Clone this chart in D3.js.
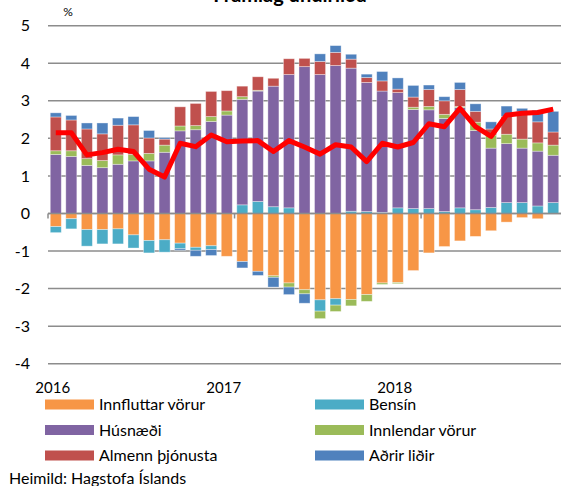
<!DOCTYPE html>
<html>
<head>
<meta charset="utf-8">
<script src="https://cdn.jsdelivr.net/npm/d3@7"></script>
<style>
  body { margin: 0; background: #fff; }
  svg { display: block; font-family: Lato, "Open Sans", sans-serif; }
</style>
</head>
<body>
<div id="chart"></div>
<script>
// months Jan 2016 - Sep 2018
const months = ['2016-01','2016-02','2016-03','2016-04','2016-05','2016-06','2016-07','2016-08','2016-09','2016-10','2016-11','2016-12',
  '2017-01','2017-02','2017-03','2017-04','2017-05','2017-06','2017-07','2017-08','2017-09','2017-10','2017-11','2017-12',
  '2018-01','2018-02','2018-03','2018-04','2018-05','2018-06','2018-07','2018-08','2018-09'];

const innfluttar = [-0.35,-0.14,-0.43,-0.43,-0.41,-0.57,-0.72,-0.70,-0.79,-0.90,-0.86,-1.14,
  -1.28,-1.54,-1.66,-1.85,-2.03,-2.30,-2.27,-2.29,-2.16,-1.85,-1.84,-1.52,
  -1.05,-0.88,-0.73,-0.61,-0.46,-0.23,-0.11,-0.14,0];
const bensin = [-0.16,-0.27,-0.44,-0.38,-0.40,-0.35,-0.33,-0.33,-0.15,-0.08,-0.10,0,
  0.23,0.32,0.18,0.15,0,-0.30,-0.17,0.06,0.05,0.03,0.15,0.13,
  0.13,0.05,0.15,0.10,0.16,0.29,0.29,0.20,0.29];
const husnaedi = [1.57,1.52,1.28,1.22,1.31,1.40,1.40,1.63,2.20,2.23,2.45,2.62,
  2.81,2.94,3.21,3.55,3.91,3.70,3.94,3.81,3.44,3.23,3.07,2.64,
  2.63,2.48,2.67,2.11,1.58,1.57,1.45,1.46,1.26];
const innlendar = [0.10,0.15,0.18,0.19,0.25,0.17,0.20,0.19,0.13,0.11,0.13,0.11,
  0.07,0.02,-0.04,-0.11,-0.11,-0.20,-0.17,-0.17,-0.18,-0.04,-0.03,0.06,
  0.09,0.11,0.03,0.22,0.35,0.25,0.24,0.22,0.27];
const almenn = [0.90,0.82,0.79,0.71,0.79,0.79,0.41,0.16,0.51,0.59,0.67,0.54,
  0.28,0.36,0.21,0.42,0.22,0.35,0.35,0.24,0.13,0.27,0.09,0.27,
  0.45,0.36,0.45,0.29,0.16,0.47,0.73,0.56,0.35];
const adrir = [0.11,0.12,0.16,0.29,0.19,0.22,0.20,0.04,-0.04,-0.16,-0.16,0,
  -0.17,-0.11,-0.26,-0.20,-0.25,0.20,0.18,0.13,0.09,0.25,0.30,0.31,
  0.12,0.11,0.19,0.20,0.19,0.28,0.09,0.31,0.55];
const verdbolga = [2.15,2.15,1.56,1.62,1.71,1.65,1.18,0.97,1.87,1.78,2.09,1.91,
  1.93,1.94,1.65,1.94,1.77,1.58,1.83,1.77,1.38,1.87,1.77,1.89,
  2.39,2.31,2.80,2.31,2.05,2.62,2.67,2.69,2.78];

const seriesNames = ['Innfluttar vörur', 'Bensín', 'Húsnæði', 'Innlendar vörur', 'Almenn þjónusta', 'Aðrir liðir'];
const seriesValues = [innfluttar, bensin, husnaedi, innlendar, almenn, adrir];
const colors = ['#F79646', '#4BACC6', '#8064A2', '#9BBB59', '#C0504D', '#4F81BD'];

const yTicks = [-4, -3, -2, -1, 0, 1, 2, 3, 4, 5];
const yearLabels = ['2016', '2017', '2018'];
const yearLabelMonth = ['2016-01', '2016-12', '2017-11'];
const yearTickMonth = ['2017-01', '2018-01'];

const width = 563;
const height = 486;

const svg = d3.select('#chart').append('svg')
  .attr('width', width)
  .attr('height', height);

const xScale = d3.scaleBand()
  .domain(months)
  .range([48, 561])
  .paddingInner(0.29)
  .paddingOuter(0.145);

const yScale = d3.scaleLinear().domain([-4, 5]).range([363.7, 25.7]);

// table for the stack
const table = months.map((m, i) => {
  const row = { month: m };
  seriesNames.forEach((s, j) => { row[s] = seriesValues[j][i]; });
  return row;
});

const stacked = d3.stack()
  .keys(seriesNames)
  .offset(d3.stackOffsetDiverging)(table);

// gridlines
svg.append('g')
  .selectAll('line')
  .data(yTicks)
  .join('line')
  .attr('x1', 48)
  .attr('x2', 561)
  .attr('y1', d => yScale(d))
  .attr('y2', d => yScale(d))
  .attr('stroke', '#8c8c8c')
  .attr('stroke-width', 1.5);

// y labels
svg.append('g')
  .selectAll('text')
  .data(yTicks)
  .join('text')
  .attr('x', 30)
  .attr('y', d => yScale(d))
  .attr('dy', '0.35em')
  .attr('text-anchor', 'end')
  .attr('font-size', 16)
  .attr('fill', '#000')
  .text(d => d);

svg.append('text')
  .attr('x', 68)
  .attr('y', 16)
  .attr('text-anchor', 'middle')
  .attr('font-size', 12)
  .text('%');

// bars
svg.append('g')
  .selectAll('g')
  .data(stacked)
  .join('g')
  .attr('fill', (d, i) => colors[i])
  .selectAll('rect')
  .data(d => d)
  .join('rect')
  .attr('x', d => xScale(d.data.month))
  .attr('width', xScale.bandwidth())
  .attr('y', d => yScale(Math.max(d[0], d[1])))
  .attr('height', d => Math.abs(yScale(d[0]) - yScale(d[1])))
  .attr('stroke', '#ffffff')
  .attr('stroke-opacity', 0.45)
  .attr('stroke-width', 0.8);

// zero axis
svg.append('line')
  .attr('x1', 48)
  .attr('x2', 561)
  .attr('y1', yScale(0))
  .attr('y2', yScale(0))
  .attr('stroke', '#8c8c8c')
  .attr('stroke-width', 1.5);

svg.append('g')
  .selectAll('line')
  .data(['2016-01'].concat(yearTickMonth))
  .join('line')
  .attr('x1', d => xScale(d) - xScale.step() * xScale.paddingInner() / 2)
  .attr('x2', d => xScale(d) - xScale.step() * xScale.paddingInner() / 2)
  .attr('y1', yScale(0))
  .attr('y2', yScale(0) + 5)
  .attr('stroke', '#8c8c8c')
  .attr('stroke-width', 1.5);

// line
const line = d3.line()
  .x((d, i) => xScale(months[i]) + xScale.bandwidth() / 2)
  .y(d => yScale(d));

svg.append('path')
  .datum(verdbolga)
  .attr('d', line)
  .attr('fill', 'none')
  .attr('stroke', '#FF0000')
  .attr('stroke-width', 5)
  .attr('stroke-linejoin', 'round');

// year labels
svg.append('g')
  .selectAll('text')
  .data(yearLabels)
  .join('text')
  .attr('x', (d, i) => xScale(yearLabelMonth[i]) + xScale.bandwidth() / 2 - 3)
  .attr('y', 393)
  .attr('text-anchor', 'middle')
  .attr('font-size', 15)
  .text(d => d);

// title (cut at the top)
svg.append('text')
  .attr('x', 290)
  .attr('y', 2)
  .attr('text-anchor', 'middle')
  .attr('font-size', 20)
  .attr('font-weight', 'bold')
  .text('Framlag undirliða');

// legend
const legend = svg.append('g')
  .selectAll('g')
  .data(seriesNames)
  .join('g')
  .attr('transform', (d, i) => `translate(${i % 2 === 0 ? 45 : 315}, ${404.5 + Math.floor(i / 2) * 25.5})`);

legend.append('rect')
  .attr('x', 0)
  .attr('y', -5)
  .attr('width', 49)
  .attr('height', 10)
  .attr('fill', (d, i) => colors[i]);

legend.append('text')
  .attr('x', 54)
  .attr('y', 0)
  .attr('dy', '0.35em')
  .attr('font-size', 16)
  .text(d => d);

svg.append('text')
  .attr('x', 9)
  .attr('y', 478)
  .attr('dy', '0.35em')
  .attr('font-size', 16)
  .text('Heimild: Hagstofa Íslands');
</script>
</body>
</html>
